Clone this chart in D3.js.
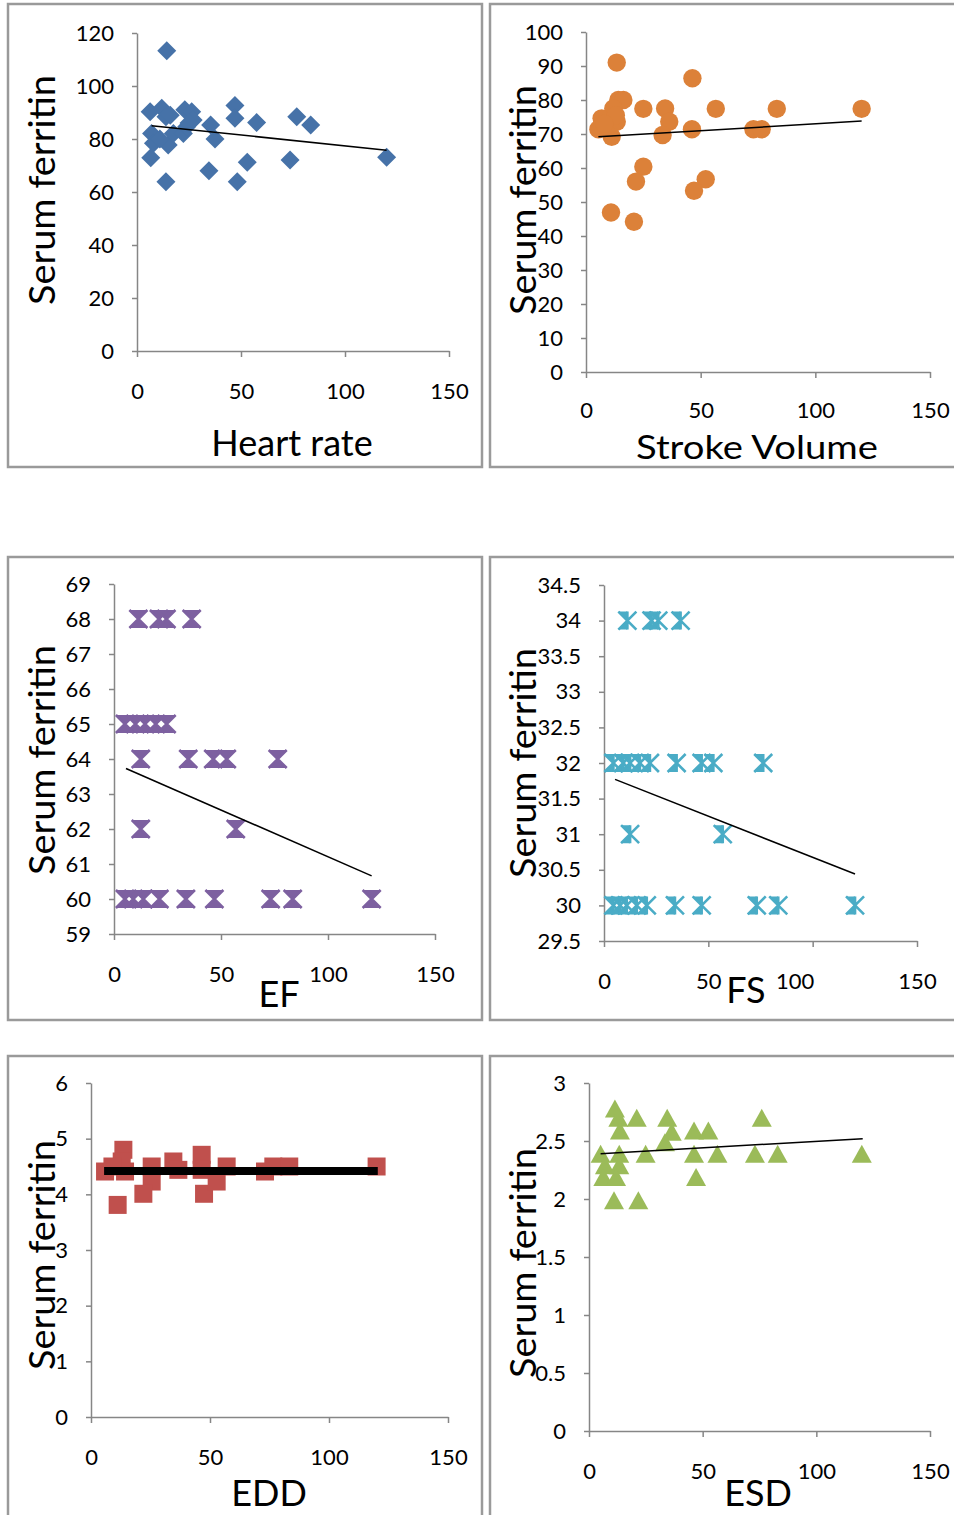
<!DOCTYPE html>
<html><head><meta charset="utf-8">
<script src="https://cdn.jsdelivr.net/npm/d3@7"></script>
<style>body{margin:0;background:#fff}svg{display:block}text{font-family:Lato,"Open Sans",sans-serif;fill:#000}</style>
</head><body>
<script>
// ---------- data ----------
const xTicks = [0, 50, 100, 150];

const hrX = [14.3,6.3,11.9,13.9,16,23,26.3,27,47.1,47.1,57.5,76.8,83.5,35.4,37.5,7,7.9,15,17.5,22.3,23.9,6.6,13.9,34.6,48.2,53,73.6,120,11,25];
const hrY = [113.3,90.3,91.6,88.4,89,91,90.3,87.2,92.6,87.8,86.2,88.4,85.3,85.3,80,82.1,78.4,77.7,82.1,82.1,84.6,72.9,63.9,68,63.9,71.2,72.1,73.1,80,86];
const hrTrend = [[7,85],[120,75.8]];
const hrYTicks = [0,20,40,60,80,100,120];

const svX = [13.4,46.4,14.1,16.3,11.9,25,34.5,56.6,83.2,120.2,6.8,13.4,36.3,5.4,11.2,33.4,46.2,73,76.6,25,21.8,52.2,47.1,10.9,20.9,13,8];
const svY = [91,86.4,80,80,77.5,77.4,77.5,77.4,77.4,77.4,74.6,73.6,73.6,71.4,69.2,69.7,71.4,71.4,71.4,60.4,56,56.7,53.3,46.9,44.2,75.5,73];
const svTrend = [[5.4,69.2],[120.2,73.8]];
const svYTicks = [0,10,20,30,40,50,60,70,80,90,100];

const efX = [11.4,21,24.5,36.3, 5.1,10,14.5,19.5,24.6, 12.5,34.7,46.4,52.7,76.5, 12.5,56.9, 5.1,9,13.7,21.2,33.6,46.9,73.2,83.5,120.4];
const efY = [68,68,68,68, 65,65,65,65,65, 64,64,64,64,64, 62,62, 60,60,60,60,60,60,60,60,60];
const efTrend = [[5.6,63.73],[120.4,60.66]];
const efYTicks = [59,60,61,62,63,64,65,66,67,68,69];

const fsX = [11.2,22.8,26,36.7, 4.5,9.2,12.5,17.2,22,34.8,46.8,52.4,76.3, 12.5,56.9, 4.5,7.7,10.9,15.7,20.5,34,46.8,73.2,83.5,120.3];
const fsY = [34,34,34,34, 32,32,32,32,32,32,32,32,32, 31,31, 30,30,30,30,30,30,30,30,30,30];
const fsTrend = [[5.3,31.77],[120.3,30.44]];
const fsYTicks = [29.5,30,30.5,31,31.5,32,32.5,33,33.5,34,34.5];

const eddX = [5.9,13.6,12.9,14.3,25.5,25.5,22,34.6,36.7,46.5,46.5,47.5,52.8,57,73.1,76.6,83.3,120,11.2,9];
const eddY = [4.41,4.8,4.59,4.41,4.5,4.23,4.01,4.59,4.44,4.71,4.44,4.01,4.23,4.5,4.41,4.5,4.5,4.5,3.81,4.5];
const eddTrend = [[5.5,4.42],[120.5,4.42]];
const eddYTicks = [0,1,2,3,4,5,6];

const esdX = [11.4,12.9,21,34.4,76,13.6,36.4,46.2,52.5,33.4,5.1,13.3,24.9,46.2,56.5,73,83,120,7,13.3,6.3,11.9,47.1,11,21.7];
const esdY = [2.78,2.7,2.7,2.7,2.7,2.59,2.58,2.59,2.59,2.49,2.39,2.39,2.39,2.39,2.39,2.39,2.39,2.39,2.29,2.29,2.19,2.19,2.19,1.99,1.99];
const esdTrend = [[5.1,2.39],[120.4,2.52]];
const esdYTicks = [0,0.5,1,1.5,2,2.5,3];

// ---------- drawing ----------
const svg = d3.select("body").append("svg").attr("width",954).attr("height",1515);
svg.append("rect").attr("width",954).attr("height",1515).attr("fill","#fff");

const shapes = {
  diamond: s => `M0,${-s}L${s},0L0,${s}L${-s},0Z`,
  square: s => `M${-s},${-s}H${s}V${s}H${-s}Z`,
  triangle: s => `M0,${-s}L${s+1},${s}L${-s-1},${s}Z`,
  hourglass: s => `M${-s},${-s}H${s}L0,0Z M${-s},${s}H${s}L0,0Z`,
  star: s => `M${-s},${-s}H0V0Z M${-s},${s}H0V0Z`
};

function panel(o){
  const g = svg.append("g");
  g.append("rect").attr("x",o.frame[0]).attr("y",o.frame[1]).attr("width",o.frame[2]).attr("height",o.frame[3])
    .attr("fill","none").attr("stroke","#9a9a9a").attr("stroke-width",2.5);
  const x = d3.scaleLinear().domain([0,150]).range([o.x0,o.x1]);
  const y = d3.scaleLinear().domain(o.yDomain).range([o.yb,o.yt]);
  const ax = g.append("g").attr("transform",`translate(0,${o.yb})`)
    .call(d3.axisBottom(x).tickValues(xTicks).tickSize(6).tickSizeOuter(0).tickPadding(o.xPad||26).tickFormat(d3.format("d")));
  const ay = g.append("g").attr("transform",`translate(${o.x0},0)`)
    .call(d3.axisLeft(y).tickValues(o.yTicks).tickSize(5).tickSizeOuter(0).tickPadding(18).tickFormat(d=>String(d)));
  [ax,ay].forEach(a=>{
    a.selectAll("path,line").attr("stroke","#868686").attr("stroke-width",1.5);
    a.selectAll("text").attr("font-size",22).attr("fill","#000").style("font-family","Lato");
  });
  if(o.xLabelShift) ax.selectAll(".tick text").attr("dx",d=>o.xLabelShift[d]||0);
  const pts = o.xs.map((v,i)=>[v,o.ys[i]]);
  const m = g.append("g");
  if(o.shape==="circle"){
    m.selectAll("circle").data(pts).join("circle").attr("cx",d=>x(d[0])).attr("cy",d=>y(d[1])).attr("r",9.2).attr("fill",o.color);
  } else {
    m.selectAll("path.mk").data(pts).join("path").attr("class","mk")
      .attr("transform",d=>`translate(${x(d[0])},${y(d[1])})`)
      .attr("d",shapes[o.shape](o.size||9.5)).attr("fill",o.color);
    if(o.shape==="hourglass"||o.shape==="star"){
      const s = o.size||9.5;
      m.selectAll("path.xs").data(pts).join("path").attr("class","xs")
        .attr("transform",d=>`translate(${x(d[0])},${y(d[1])})`)
        .attr("d",`M${-s},${-s}L${s},${s}M${s},${-s}L${-s},${s}` + (o.shape==="star"?`M0,${-s}V${s}`:""))
        .attr("stroke",o.color).attr("stroke-width",2.6).attr("fill","none");
    }
  }
  g.append("line").attr("x1",x(o.trend[0][0])).attr("y1",y(o.trend[0][1]))
    .attr("x2",x(o.trend[1][0])).attr("y2",y(o.trend[1][1]))
    .attr("stroke","#000").attr("stroke-width",o.trendW||1.5);
  const xt = g.append("text").attr("x",o.xt[0]).attr("y",o.xt[1]).attr("text-anchor","middle").attr("font-size",o.xtFont||36)
    .text(o.xTitle);
  if(o.xtLen) xt.attr("textLength",o.xtLen).attr("lengthAdjust","spacingAndGlyphs");
  g.append("text").attr("transform",`translate(${o.yt2[0]},${o.yt2[1]}) rotate(-90)`).attr("text-anchor","middle")
    .attr("font-size",36).attr("textLength",230).attr("lengthAdjust","spacingAndGlyphs").text("Serum ferritin");
}

panel({frame:[8,4,474,463], x0:137,x1:449, yb:351,yt:33, yDomain:[0,120], yTicks:hrYTicks,
  xs:hrX, ys:hrY, shape:"diamond", color:"#4672a8", trend:hrTrend, xTitle:"Heart rate", xt:[292,456], yt2:[55,190]});
panel({frame:[490,4,480,463], x0:586,x1:930, yb:372,yt:32, yDomain:[0,100], yTicks:svYTicks,
  xs:svX, ys:svY, shape:"circle", color:"#dc8139", trend:svTrend, xTitle:"Stroke Volume", xt:[757,459], xtFont:33, xtLen:242, xPad:24, yt2:[536,200]});
panel({frame:[8,557,474,463], x0:114,x1:435, yb:934,yt:584, yDomain:[59,69], yTicks:efYTicks,
  xs:efX, ys:efY, shape:"hourglass", size:9, color:"#7d60a0", trend:efTrend, xTitle:"EF", xt:[279,1007], yt2:[55,760]});
panel({frame:[490,557,480,463], x0:604,x1:917, yb:941,yt:585, yDomain:[29.5,34.5], yTicks:fsYTicks, xLabelShift:{100:-18},
  xs:fsX, ys:fsY, shape:"star", size:9, color:"#4aacc6", trend:fsTrend, xTitle:"FS", xt:[746,1003], yt2:[536,763]});
panel({frame:[8,1056,474,480], x0:91,x1:448, yb:1417,yt:1083, yDomain:[0,6], yTicks:eddYTicks,
  xs:eddX, ys:eddY, shape:"square", size:9, color:"#c0504d", trend:eddTrend, trendW:8, xTitle:"EDD", xt:[269,1506], yt2:[55,1255]});
panel({frame:[490,1056,480,480], x0:589,x1:930, yb:1431,yt:1083, yDomain:[0,3], yTicks:esdYTicks,
  xs:esdX, ys:esdY, shape:"triangle", size:9, color:"#9bbb59", trend:esdTrend, xTitle:"ESD", xt:[758,1506], yt2:[536,1263]});
</script>
</body></html>
